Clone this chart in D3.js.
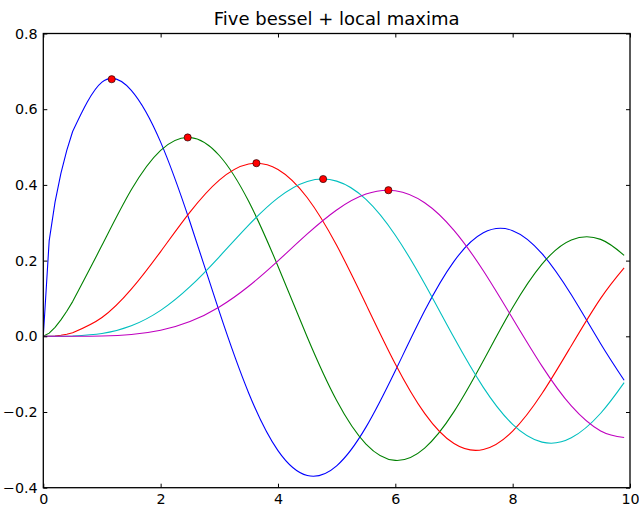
<!DOCTYPE html>
<html>
<head>
<meta charset="utf-8">
<script src="https://cdn.jsdelivr.net/npm/d3@7"></script>
<style>
  html, body { margin: 0; padding: 0; background: #fff; }
  svg { display: block; }
</style>
</head>
<body>
<script>
// ---- data ----
const xs = [0, 0.1, 0.2, 0.3, 0.4, 0.5, 1.0, 1.5, 2.0, 2.5, 3.0, 3.5, 4.0, 4.5, 5.0, 5.5,
            6.0, 6.5, 7.0, 7.5, 8.0, 8.5, 9.0, 9.5, 9.9];
const blue = [0, 0.2519, 0.3545, 0.4305, 0.4913, 0.5410, 0.6714, 0.6498, 0.5130, 0.3020, 0.0650,
              -0.1496, -0.3019, -0.3677, -0.3422, -0.2400, -0.0910, 0.0673, 0.1981, 0.2733,
              0.2791, 0.2185, 0.1096, -0.0195, -0.1160];
const green = [0, 0.0084, 0.0237, 0.0433, 0.0662, 0.0917, 0.2403, 0.3871, 0.4913, 0.5251, 0.4777,
               0.3566, 0.1853, -0.0024, -0.1697, -0.2847, -0.3279, -0.2953, -0.1991, -0.0646,
               0.0759, 0.1905, 0.2545, 0.2561, 0.2138];
const red = [0, 0.0002, 0.0009, 0.0026, 0.0053, 0.0092, 0.0495, 0.1244, 0.2239, 0.3281, 0.4127,
             0.4553, 0.4409, 0.3661, 0.2404, 0.0847, -0.0730, -0.2036, -0.2834, -0.2991,
             -0.2506, -0.1513, -0.0248, 0.1003, 0.1808];
const cyan = [0, 0.0000, 0.0000, 0.0001, 0.0003, 0.0007, 0.0072, 0.0277, 0.0685, 0.1311, 0.2101,
              0.2938, 0.3658, 0.4092, 0.4100, 0.3618, 0.2671, 0.1387, -0.0034, -0.1349,
              -0.2326, -0.2795, -0.2683, -0.2033, -0.1225];
const magenta = [0, 0.0000, 0.0000, 0.0000, 0.0000, 0.0000, 0.0008, 0.0047, 0.0159, 0.0390, 0.0776,
                 0.1323, 0.1993, 0.2704, 0.3337, 0.3757, 0.3846, 0.3529, 0.2800, 0.1732,
                 0.0471, -0.0788, -0.1839, -0.2501, -0.2674];
const maxX = [1.166, 2.461, 3.632, 4.770, 5.882];
const maxY = [0.6792, 0.5253, 0.4574, 0.4155, 0.3860];
const xTicks = [0, 2, 4, 6, 8, 10];
const yTicks = [-0.4, -0.2, 0.0, 0.2, 0.4, 0.6, 0.8];
const seriesColors = ["#0000ff", "#008000", "#ff0000", "#00bfbf", "#bf00bf"];
const title = "Five bessel + local maxima";

// ---- layout ----
const W = 639, H = 507;
const L = 43.3, R = 630, T = 33.5, B = 487.7;
const FONT = "DejaVu Sans, sans-serif";

const svg = d3.select("body").append("svg").attr("width", W).attr("height", H);

const x = d3.scaleLinear().domain([0, 10]).range([L, R]);
const y = d3.scaleLinear().domain([-0.4, 0.8]).range([B, T]);

svg.append("clipPath").attr("id", "clip")
  .append("rect").attr("x", L).attr("y", T).attr("width", R - L).attr("height", B - T);

const lineStart = d3.line().x(d => x(d[0])).y(d => y(d[1]));            // dense start, straight pieces
const lineRest = d3.line().x(d => x(d[0])).y(d => y(d[1])).curve(d3.curveNatural);
const split = xs.indexOf(0.5);

const allSeries = [blue, green, red, cyan, magenta];
const g = svg.append("g").attr("clip-path", "url(#clip)");
allSeries.forEach((s, i) => {
  const pts = xs.map((xv, j) => [xv, s[j]]);
  const d = lineStart(pts.slice(0, split + 1)) + lineRest(pts.slice(split)).replace(/^M[^CLZ]*/, "");
  g.append("path")
    .attr("d", d)
    .attr("fill", "none")
    .attr("stroke", seriesColors[i])
    .attr("stroke-width", 1.1)
    .attr("stroke-linejoin", "round");
});

// maxima markers
svg.append("g").selectAll("circle")
  .data(maxX.map((v, i) => [v, maxY[i]]))
  .join("circle")
  .attr("cx", d => x(d[0])).attr("cy", d => y(d[1]))
  .attr("r", 3.6)
  .attr("fill", "#ff0000")
  .attr("stroke", "#000").attr("stroke-width", 0.6);

// axes (ticks inward on all sides)
const fmtY = d => d3.format(".1f")(d);
const axB = svg.append("g").attr("transform", `translate(0,${B})`)
  .call(d3.axisBottom(x).tickValues(xTicks).tickSize(-4).tickPadding(6.3).tickFormat(d3.format("d")));
const axT = svg.append("g").attr("transform", `translate(0,${T})`)
  .call(d3.axisTop(x).tickValues(xTicks).tickSize(-4).tickFormat(""));
const axL = svg.append("g").attr("transform", `translate(${L},0)`)
  .call(d3.axisLeft(y).tickValues(yTicks).tickSize(-4).tickPadding(5.6).tickFormat(fmtY));
const axR = svg.append("g").attr("transform", `translate(${R},0)`)
  .call(d3.axisRight(y).tickValues(yTicks).tickSize(-4).tickFormat(""));

[axB, axT, axL, axR].forEach(a => {
  a.attr("font-size", 14.3).attr("font-family", FONT);
  a.select(".domain").remove();
  a.selectAll(".tick line").attr("stroke", "#000").attr("stroke-width", 1);
  a.selectAll(".tick text").attr("fill", "#000");
});

// frame
svg.append("rect")
  .attr("x", L).attr("y", T).attr("width", R - L).attr("height", B - T)
  .attr("fill", "none").attr("stroke", "#000").attr("stroke-width", 1.3);

// title
svg.append("text")
  .attr("x", (L + R) / 2).attr("y", 25)
  .attr("text-anchor", "middle")
  .attr("font-family", FONT)
  .attr("font-size", 18)
  .attr("fill", "#000")
  .text(title);
</script>
</body>
</html>
